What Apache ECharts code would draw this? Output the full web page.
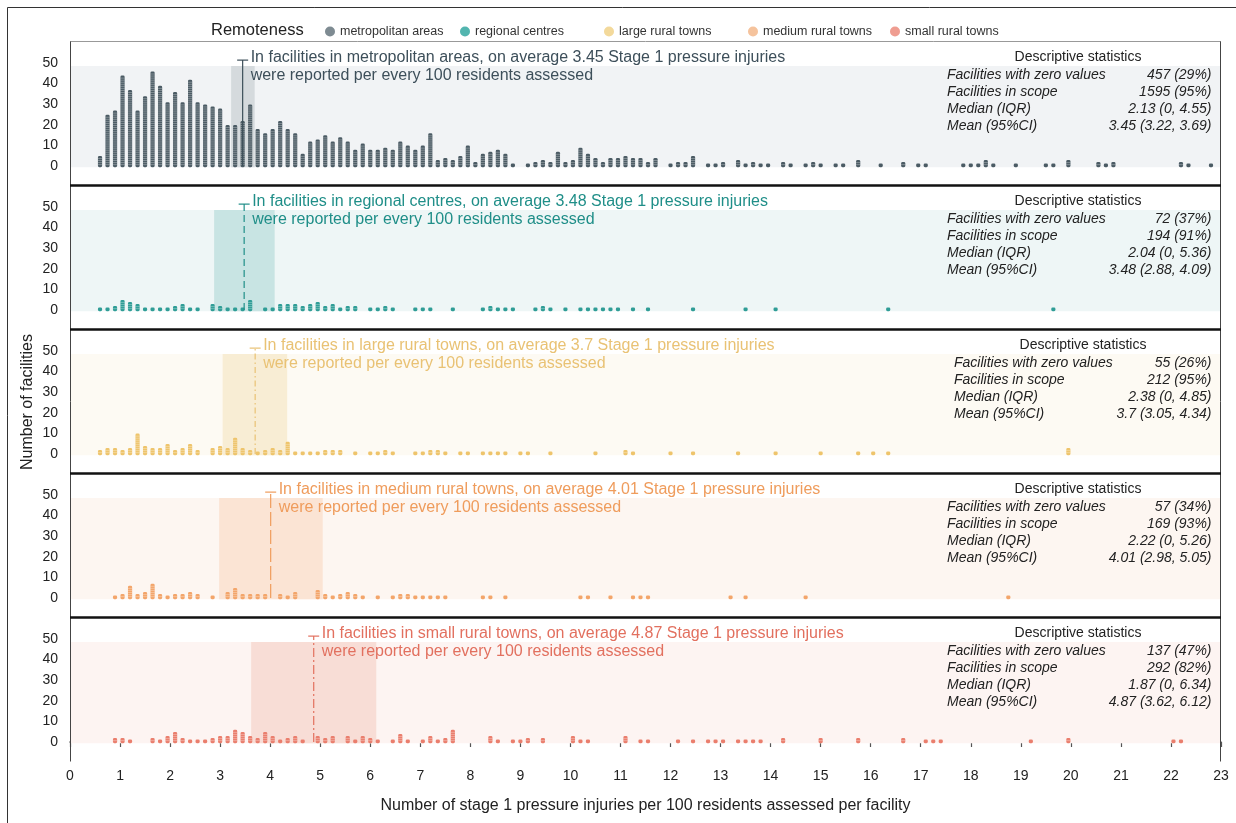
<!DOCTYPE html>
<html>
<head>
<meta charset="utf-8">
<script src="https://cdn.jsdelivr.net/npm/echarts@6.0.0/dist/echarts.min.js"></script>
<style>
html,body{margin:0;padding:0;background:#fff;}
#chart{width:1236px;height:823px;}
</style>
</head>
<body>
<div id="chart"></div>
<script>
// Remoteness groups, one panel each
const groups = ['metropolitan areas', 'regional centres', 'large rural towns', 'medium rural towns', 'small rural towns'];

// Summary figures per group
const means = [3.45, 3.48, 3.7, 4.01, 4.87];
const ciLow = [3.22, 2.88, 3.05, 2.98, 3.62];
const ciHigh = [3.69, 4.09, 4.34, 5.05, 6.12];
const statLabels = ['Facilities with zero values', 'Facilities in scope', 'Median (IQR)', 'Mean (95%CI)'];
const zeroValues = ['457 (29%)', '72 (37%)', '55 (26%)', '57 (34%)', '137 (47%)'];
const inScope = ['1595 (95%)', '194 (91%)', '212 (95%)', '169 (93%)', '292 (82%)'];
const medianIqr = ['2.13 (0, 4.55)', '2.04 (0, 5.36)', '2.38 (0, 4.85)', '2.22 (0, 5.26)', '1.87 (0, 6.34)'];
const meanCi = ['3.45 (3.22, 3.69)', '3.48 (2.88, 4.09)', '3.7 (3.05, 4.34)', '4.01 (2.98, 5.05)', '4.87 (3.62, 6.12)'];

// Dot stacks: [rate per 100 residents, number of facilities]
const metroDots = [
  [0.6,5],[0.75,25],[0.9,27],[1.05,44],[1.2,37],[1.35,27],[1.5,34],[1.65,46],[1.8,39],[1.95,31],
  [2.1,36],[2.25,31],[2.4,42],[2.55,31],[2.7,30],[2.85,29],[3.0,28],[3.15,20],[3.3,20],[3.45,22],
  [3.6,30],[3.75,18],[3.9,16],[4.05,18],[4.2,22],[4.35,18],[4.5,16],[4.65,6],[4.8,12],[4.95,13],
  [5.1,15],[5.25,12],[5.4,14],[5.55,12],[5.7,8],[5.85,11],[6.0,8],[6.15,8],[6.3,9],[6.45,8],
  [6.6,12],[6.75,10],[6.9,8],[7.05,10],[7.2,16],[7.35,3],[7.5,4],[7.65,3],[7.8,5],[7.95,10],
  [8.1,2],[8.25,6],[8.4,7],[8.55,8],[8.7,6],[8.85,1],[9.15,1],[9.3,2],[9.45,3],[9.6,2],
  [9.75,7],[9.9,2],[10.05,3],[10.2,9],[10.35,6],[10.5,4],[10.65,2],[10.8,4],[10.95,4],[11.1,5],
  [11.25,4],[11.4,4],[11.55,2],[11.7,4],[12.0,1],[12.15,2],[12.3,2],[12.45,5],[12.75,1],[12.9,1],
  [13.05,2],[13.35,3],[13.5,1],[13.65,2],[13.8,1],[13.95,1],[14.25,2],[14.4,1],[14.7,1],[14.85,2],
  [15.0,1],[15.3,1],[15.45,1],[15.75,3],[16.2,1],[16.65,2],[16.95,1],[17.1,1],[17.85,1],[18.0,1],
  [18.15,1],[18.3,3],[18.45,1],[18.9,1],[19.5,1],[19.65,1],[19.95,3],[20.55,2],[20.7,1],[20.85,2],
  [22.2,2],[22.35,1],[22.8,1]
];
const regionalDots = [
  [0.6,1],[0.75,1],[0.9,2],[1.05,5],[1.2,4],[1.35,3],[1.5,1],[1.65,1],[1.8,1],[1.95,1],
  [2.1,2],[2.25,3],[2.4,1],[2.55,1],[2.85,3],[3.0,2],[3.15,1],[3.3,1],[3.45,1],[3.6,5],
  [3.9,1],[4.05,1],[4.2,3],[4.35,3],[4.5,3],[4.65,2],[4.8,3],[4.95,4],[5.1,2],[5.25,3],
  [5.4,1],[5.55,2],[5.7,2],[6.0,1],[6.15,1],[6.3,2],[6.45,1],[6.9,1],[7.05,1],[7.2,1],
  [7.65,1],[8.25,1],[8.4,2],[8.55,1],[8.7,1],[8.85,1],[9.3,1],[9.45,2],[9.6,1],[9.9,1],
  [10.2,1],[10.35,1],[10.5,1],[10.65,1],[10.8,1],[10.95,1],[11.25,1],[11.55,1],[12.45,1],[13.5,1],
  [14.1,1],[16.35,1],[19.65,1]
];
const largeRuralDots = [
  [0.6,2],[0.75,3],[0.9,3],[1.05,2],[1.2,3],[1.35,10],[1.5,4],[1.65,3],[1.8,3],[1.95,5],
  [2.1,2],[2.25,3],[2.4,5],[2.55,2],[2.85,3],[3.0,4],[3.15,3],[3.3,8],[3.45,3],[3.6,2],
  [3.75,1],[3.9,2],[4.05,3],[4.2,2],[4.35,6],[4.5,1],[4.65,1],[4.8,1],[4.95,1],[5.1,2],
  [5.25,2],[5.4,2],[5.7,1],[6.0,1],[6.15,1],[6.3,2],[6.45,1],[6.9,1],[7.05,1],[7.2,2],
  [7.35,2],[7.5,1],[7.8,1],[7.95,1],[8.25,1],[8.4,1],[8.55,1],[8.7,1],[9.0,1],[9.15,1],
  [9.6,1],[10.5,1],[11.1,2],[11.25,1],[12.0,1],[12.45,1],[13.35,1],[14.1,1],[15.0,1],[15.75,1],
  [16.05,1],[16.35,1],[19.95,3]
];
const mediumRuralDots = [
  [0.9,1],[1.05,2],[1.2,6],[1.35,2],[1.5,3],[1.65,7],[1.8,2],[1.95,1],[2.1,2],[2.25,2],
  [2.4,3],[2.55,2],[2.85,1],[3.15,3],[3.3,5],[3.45,2],[3.6,2],[3.75,2],[3.9,2],[4.2,2],
  [4.35,1],[4.5,3],[4.95,4],[5.1,2],[5.25,1],[5.4,2],[5.55,3],[5.7,2],[5.85,1],[6.15,1],
  [6.45,1],[6.6,2],[6.75,2],[6.9,1],[7.05,1],[7.2,1],[7.35,1],[7.5,1],[8.25,1],[8.4,1],
  [8.7,1],[10.2,1],[10.35,1],[10.8,1],[11.25,1],[11.4,1],[11.55,1],[13.2,1],[13.5,1],[14.7,1],
  [18.75,1]
];
const smallRuralDots = [
  [0.9,2],[1.05,2],[1.2,1],[1.65,2],[1.8,1],[1.95,3],[2.1,5],[2.25,2],[2.4,1],[2.55,1],
  [2.7,1],[2.85,2],[3.0,3],[3.15,3],[3.3,6],[3.45,5],[3.6,3],[3.75,2],[3.9,5],[4.05,3],
  [4.2,1],[4.35,2],[4.5,3],[4.65,1],[4.95,3],[5.1,2],[5.25,3],[5.55,3],[5.7,1],[5.85,3],
  [6.0,2],[6.15,1],[6.45,1],[6.6,4],[6.75,1],[7.05,1],[7.2,3],[7.35,1],[7.5,2],[7.65,6],
  [8.4,3],[8.55,1],[8.85,1],[9.0,1],[9.15,2],[9.45,2],[10.05,3],[10.2,1],[10.35,1],[11.1,3],
  [11.4,1],[11.55,1],[12.15,1],[12.45,1],[12.75,1],[12.9,1],[13.05,1],[13.35,1],[13.5,1],[13.65,1],
  [13.8,1],[14.25,2],[15.0,2],[15.75,2],[16.65,2],[17.1,1],[17.25,1],[17.4,1],[19.2,1],[19.95,2],
  [22.05,1],[22.2,1]
];
const dotsByGroup = [metroDots, regionalDots, largeRuralDots, mediumRuralDots, smallRuralDots];

// Palette per group
const barColors  = ['#4b5b64', '#2f9d96', '#eec46b', '#f3a56a', '#ea7e6d'];
const textColors = ['#3d4f5a', '#1f8e88', '#e9c274', '#ef9c5c', '#e2705f'];
const bandColors = ['#f1f3f5', '#eef6f6', '#fdfaf3', '#fdf6f1', '#fdf4f2'];
const ciColors   = ['#d5dadd', '#c8e4e3', '#f8edd4', '#fbe4d4', '#f8ddd6'];
const legendColors = ['#7e8b92', '#52b5af', '#f3d99b', '#f5c39d', '#ef9d91'];
const meanDash = [null, [7, 4], [6, 3, 1.5, 3], [14, 4], [9, 3, 2, 3]];

const FONT = "'Liberation Sans', Arial, Helvetica, sans-serif";
const frameTop = [41.5, 185.5, 329.5, 473.5, 617.5];
const frameBottom = 761.5;
const plotLeft = 70, plotRight = 1221;
const statsLeft = [947, 947, 954, 947, 947];
const statsHeadX = [1078, 1078, 1083, 1078, 1078];
const legendLeft = [320, 455, 599, 743, 885];

const chart = echarts.init(document.getElementById('chart'), null, {renderer: 'canvas'});

const grids = [], xAxes = [], yAxes = [], series = [], graphics = [], legends = [];

groups.forEach((g, i) => {
  const last = i === groups.length - 1;
  grids.push({left: plotLeft, width: plotRight - plotLeft, top: frameTop[i] + 21.5, height: 103});
  xAxes.push({
    type: 'value', gridIndex: i, min: 0, max: 23, interval: 1,
    show: last,
    offset: 19.5,
    name: last ? 'Number of stage 1 pressure injuries per 100 residents assessed per facility' : '',
    nameLocation: 'middle', nameGap: 36,
    nameTextStyle: {fontSize: 16, color: '#222', fontFamily: FONT},
    axisLine: {show: last, lineStyle: {color: '#555', width: 1.5}},
    axisTick: {show: last, length: 5, lineStyle: {color: '#555', width: 1.2}},
    axisLabel: {show: last, fontSize: 14, color: '#222', margin: 8, fontFamily: FONT},
    splitLine: {show: false}
  });
  yAxes.push({
    type: 'value', gridIndex: i, min: 0, max: 50, interval: 10,
    axisLine: {show: false}, axisTick: {show: false}, splitLine: {show: false},
    axisLabel: {fontSize: 14, color: '#222', margin: 12, fontFamily: FONT}
  });

  // one legend entry per group, evenly spaced along the top
  legends.push({
    left: legendLeft[i], top: 20, icon: 'circle', itemWidth: 10, itemHeight: 10, itemGap: 0,
    textStyle: {fontSize: 12.5, color: '#333', fontFamily: FONT},
    selectedMode: false,
    data: [{name: g, itemStyle: {color: legendColors[i]}}]
  });

  // shaded panel band with the 95% CI block
  series.push({
    type: 'custom', xAxisIndex: i, yAxisIndex: i, z: 1, silent: true,
    data: [[ciLow[i], ciHigh[i]]],
    renderItem: (params, api) => {
      const b0 = api.coord([0, -0.6]), b1 = api.coord([23, 48.5]);
      const c0 = api.coord([api.value(0), -0.6]), c1 = api.coord([api.value(1), 48.5]);
      return {type: 'group', children: [
        {type: 'rect', shape: {x: b0[0], y: b1[1], width: b1[0] - b0[0], height: b0[1] - b1[1]}, style: {fill: bandColors[i]}},
        {type: 'rect', shape: {x: c0[0], y: c1[1], width: c1[0] - c0[0], height: c0[1] - c1[1]}, style: {fill: ciColors[i]}}
      ]};
    }
  });

  // stacked dots, one per facility
  series.push({
    name: g, type: 'custom', xAxisIndex: i, yAxisIndex: i, z: 3, silent: true,
    itemStyle: {color: barColors[i]},
    encode: {x: 0, y: 1},
    data: dotsByGroup[i],
    renderItem: (params, api) => {
      const n = api.value(1);
      const base = api.coord([api.value(0), 0]);
      const unit = api.size([0, 1])[1];
      const w = 4.2;
      const h = Math.max(n * unit + 1, 3.6);
      const kids = [{type: 'rect', shape: {x: base[0] - w / 2, y: base[1] - h + 1.2, width: w, height: h, r: 1.4}, style: {fill: barColors[i]}}];
      for (let k = 1; k < n; k++) {
        const y = base[1] - k * unit + 0.7;
        kids.push({type: 'line', shape: {x1: base[0] - w / 2, y1: y, x2: base[0] + w / 2, y2: y}, style: {stroke: 'rgba(255,255,255,0.5)', lineWidth: 0.6}});
      }
      return {type: 'group', children: kids};
    }
  });

  // mean marker with its caption
  series.push({
    type: 'custom', xAxisIndex: i, yAxisIndex: i, z: 4, silent: true,
    data: [[means[i], 0]],
    renderItem: (params, api) => {
      const m = api.value(0);
      const p0 = api.coord([m, 0]), p1 = api.coord([m, 51.4]);
      const style = {stroke: textColors[i], lineWidth: 1.2};
      if (meanDash[i]) style.lineDash = meanDash[i];
      return {type: 'group', children: [
        {type: 'line', shape: {x1: p0[0], y1: p0[1], x2: p1[0], y2: p1[1]}, style: style},
        {type: 'line', shape: {x1: p1[0] - 5.5, y1: p1[1], x2: p1[0] + 5.5, y2: p1[1]}, style: {stroke: textColors[i], lineWidth: 1.2}},
        {type: 'text', x: p1[0] + 8, y: p1[1] - 3, style: {
          text: 'In facilities in ' + groups[i] + ', on average ' + means[i] + ' Stage 1 pressure injuries',
          fill: textColors[i], font: '16px ' + FONT, verticalAlign: 'middle', align: 'left'}},
        {type: 'text', x: p1[0] + 8, y: p1[1] + 15, style: {
          text: 'were reported per every 100 residents assessed',
          fill: textColors[i], font: '16px ' + FONT, verticalAlign: 'middle', align: 'left'}}
      ]};
    }
  });

  // descriptive statistics table
  const t = frameTop[i];
  graphics.push({type: 'text', x: statsHeadX[i], y: t + 15.5, z: 20,
    style: {text: 'Descriptive statistics', font: '14px ' + FONT, fill: '#222', align: 'center', verticalAlign: 'middle'}});
  const vals = [zeroValues[i], inScope[i], medianIqr[i], meanCi[i]];
  const rowY = [34, 51, 67.5, 84.5];
  statLabels.forEach((lab, r) => {
    graphics.push({type: 'text', x: statsLeft[i], y: t + rowY[r], z: 20,
      style: {text: lab, font: 'italic 14px ' + FONT, fill: '#222', align: 'left', verticalAlign: 'middle'}});
    graphics.push({type: 'text', x: 1211.5, y: t + rowY[r], z: 20,
      style: {text: vals[r], font: 'italic 14px ' + FONT, fill: '#222', align: 'right', verticalAlign: 'middle'}});
  });
});

// figure and panel frames
graphics.push({type: 'rect', z: 30, shape: {x: 7.5, y: 7.5, width: 1300, height: 900}, style: {fill: 'none', stroke: '#333', lineWidth: 1}});
graphics.push({type: 'line', z: 30, shape: {x1: plotLeft, y1: frameTop[0], x2: plotRight, y2: frameTop[0]}, style: {stroke: '#999', lineWidth: 1}});
graphics.push({type: 'line', z: 30, shape: {x1: plotLeft + 0.5, y1: frameTop[0], x2: plotLeft + 0.5, y2: frameBottom}, style: {stroke: '#444', lineWidth: 1}});
graphics.push({type: 'line', z: 30, shape: {x1: plotRight - 0.5, y1: frameTop[0], x2: plotRight - 0.5, y2: frameBottom}, style: {stroke: '#444', lineWidth: 1}});
for (let i = 1; i < frameTop.length; i++) {
  graphics.push({type: 'line', z: 30, shape: {x1: plotLeft, y1: frameTop[i], x2: plotRight, y2: frameTop[i]}, style: {stroke: '#111', lineWidth: 2.5}});
}
// axis titles and legend caption
graphics.push({type: 'text', z: 30, x: 28, y: 402, rotation: Math.PI / 2,
  style: {text: 'Number of facilities', font: '16px ' + FONT, fill: '#222', align: 'center', verticalAlign: 'middle'}});
graphics.push({type: 'text', z: 30, x: 211, y: 30,
  style: {text: 'Remoteness', font: '16.5px ' + FONT, fill: '#222', align: 'left', verticalAlign: 'middle'}});

chart.setOption({
  animation: false,
  textStyle: {fontFamily: FONT},
  legend: legends,
  grid: grids,
  xAxis: xAxes,
  yAxis: yAxes,
  series: series,
  graphic: {elements: graphics}
});
</script>
</body>
</html>
